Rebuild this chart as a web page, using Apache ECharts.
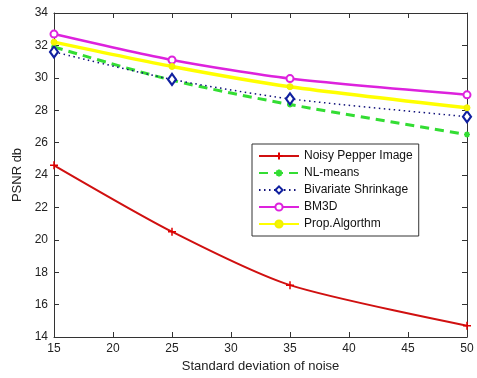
<!DOCTYPE html>
<html>
<head>
<meta charset="utf-8">
<script src="https://cdn.jsdelivr.net/npm/echarts@6/dist/echarts.min.js"></script>
<style>
html,body{margin:0;padding:0;background:#fff;}
#main{width:477px;height:378px;}
</style>
</head>
<body>
<div id="main"></div>
<script>
var sigma = [15, 25, 35, 50];
var noisy = [24.6, 20.5, 17.2, 14.7];
var nlMeans = [31.9, 29.85, 28.35, 26.5];
var bivariate = [31.6, 29.9, 28.7, 27.6];
var bm3d = [32.7, 31.1, 29.95, 28.95];
var propAlg = [32.2, 30.7, 29.45, 28.15];

var plus = 'path://M5 0 L5 10 M0 5 L10 5';
var star = 'path://M5 0 L5 10 M0 5 L10 5 M1.5 1.5 L8.5 8.5 M8.5 1.5 L1.5 8.5';

function pairs(ys) {
    return sigma.map(function (x, i) { return [x, ys[i]]; });
}

var font = 'Liberation Sans, Arial, sans-serif';
var chart = echarts.init(document.getElementById('main'));

chart.setOption({
    animation: false,
    textStyle: {fontFamily: font},
    grid: {left: 54, right: 10, top: 13, bottom: 41},
    legend: {
        orient: 'vertical',
        left: 252, top: 144,
        width: 167,
        backgroundColor: '#fff',
        borderColor: '#333', borderWidth: 1,
        padding: [6, 6, 6, 6],
        itemGap: 5,
        itemWidth: 40, itemHeight: 9,
        textStyle: {fontSize: 12, color: '#111', fontFamily: font},
        data: ['Noisy Pepper Image', 'NL-means', 'Bivariate Shrinkage', 'BM3D', 'Prop.Algorthm']
    },
    xAxis: [{
        type: 'value', min: 15, max: 50, interval: 5,
        name: 'Standard deviation of noise', nameLocation: 'middle', nameGap: 22,
        nameTextStyle: {fontSize: 13, color: '#222'},
        axisLine: {lineStyle: {color: '#333'}},
        axisTick: {inside: true, length: 5, lineStyle: {color: '#333'}},
        axisLabel: {fontSize: 12, color: '#222', margin: 6},
        splitLine: {show: false}
    }, {
        type: 'value', min: 15, max: 50, interval: 5, position: 'top',
        axisLine: {show: true, lineStyle: {color: '#333'}},
        axisTick: {inside: true, length: 5, lineStyle: {color: '#333'}},
        axisLabel: {show: false}, splitLine: {show: false}
    }],
    yAxis: [{
        type: 'value', min: 14, max: 34, interval: 2,
        name: 'PSNR db', nameLocation: 'middle', nameGap: 24,
        nameTextStyle: {fontSize: 13, color: '#222'},
        axisLine: {show: true, lineStyle: {color: '#333'}},
        axisTick: {show: true, inside: true, length: 5, lineStyle: {color: '#333'}},
        axisLabel: {fontSize: 12, color: '#222', margin: 6},
        splitLine: {show: false}
    }, {
        type: 'value', min: 14, max: 34, interval: 2, position: 'right',
        axisLine: {show: true, lineStyle: {color: '#333'}},
        axisTick: {show: true, inside: true, length: 5, lineStyle: {color: '#333'}},
        axisLabel: {show: false}, splitLine: {show: false}
    }],
    series: [{
        name: 'Noisy Pepper Image', type: 'line', smooth: 0.25,
        data: pairs(noisy),
        symbol: plus, symbolSize: 8,
        lineStyle: {color: '#d01010', width: 2},
        itemStyle: {color: '#d01010', borderColor: '#e00000', borderWidth: 1.5}
    }, {
        name: 'NL-means', type: 'line', smooth: 0.25,
        data: pairs(nlMeans),
        symbol: star, symbolSize: 6,
        lineStyle: {color: '#33dd33', width: 3, type: [9, 6]},
        itemStyle: {color: '#33dd33', borderColor: '#33dd33', borderWidth: 1.5}
    }, {
        name: 'Bivariate Shrinkage', type: 'line', smooth: 0.25,
        data: pairs(bivariate),
        symbol: 'diamond', symbolSize: [8, 11],
        lineStyle: {color: '#10107a', width: 1.5, type: [1.5, 3.5]},
        itemStyle: {color: '#fff', borderColor: '#1020a0', borderWidth: 2.2}
    }, {
        name: 'BM3D', type: 'line', smooth: 0.25,
        data: pairs(bm3d),
        symbol: 'emptyCircle', symbolSize: 7,
        lineStyle: {color: '#dd22dd', width: 2.5},
        itemStyle: {color: '#dd22dd', borderColor: '#dd22dd', borderWidth: 1.8}
    }, {
        name: 'Prop.Algorthm', type: 'line', smooth: 0.25,
        data: pairs(propAlg),
        symbol: 'circle', symbolSize: 6,
        lineStyle: {color: '#ffff00', width: 3.5},
        itemStyle: {color: '#f6f600', borderColor: '#f0f000', borderWidth: 1}
    }]
});
</script>
</body>
</html>
